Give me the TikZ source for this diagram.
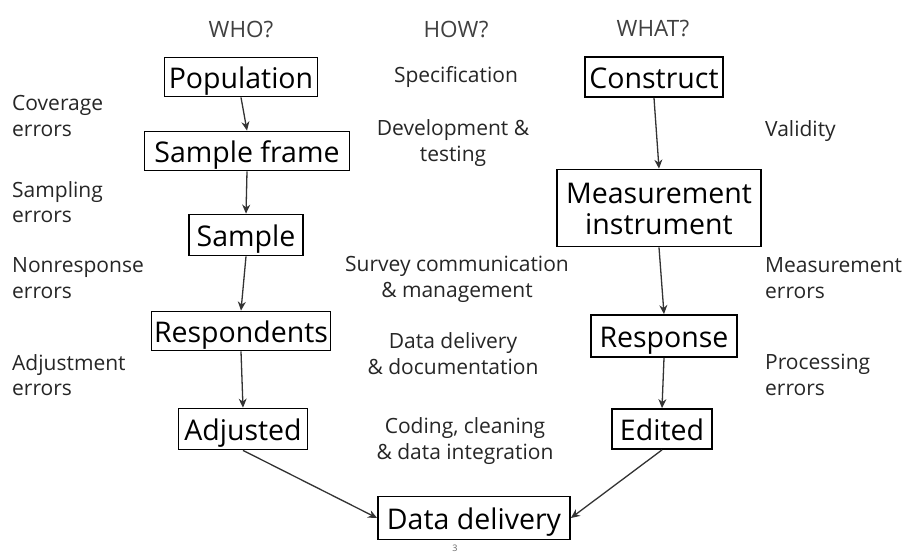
\documentclass[tikz,border=0pt]{standalone}
\usepackage{fontspec}
\setmainfont{Open Sans}
\usetikzlibrary{arrows.meta}
\begin{document}
\begin{tikzpicture}[x=1pt,y=-1pt,
  stage/.style={draw=black,line width=1.8pt,inner sep=0pt,align=center,
    text height=28pt,text depth=6pt,
    font=\fontsize{28.5}{31}\selectfont},
  head/.style={text=black!75,font=\fontsize{22.5}{26}\selectfont},
  errlbl/.style={anchor=west,align=left,inner sep=0pt,text=black!85,
    font=\fontsize{21}{25.5}\selectfont},
  howlbl/.style={align=center,inner sep=0pt,text=black!85,
    font=\fontsize{21}{26}\selectfont},
  flow/.style={draw=black!80,line width=1.3pt,-{Stealth[length=9pt,width=8pt]}}]
\useasboundingbox (0,0) rectangle (908,555);
\fill[white] (0,0) rectangle (908,555);

% column headings
\node[head] (who)  at (241,29) {WHO?};
\node[head] (how)  at (456,29) {HOW?};
\node[head] (what) at (653,29) {WHAT?};

% representation side
\node[stage,minimum width=153pt,minimum height=39pt] (pop) at (241,77) {Population};
\node[stage,minimum width=205pt,minimum height=39pt] (frame) at (247,151) {Sample frame};
\node[stage,minimum width=114pt,minimum height=41pt] (samp) at (246,235) {Sample};
\node[stage,minimum width=179pt,minimum height=39pt] (resp) at (241,331) {Respondents};
\node[stage,minimum width=129pt,minimum height=41pt] (adj) at (243,429) {Adjusted};

% measurement side
\node[stage,minimum width=138pt,minimum height=40pt] (con) at (654,77) {Construct};
\node[stage,minimum width=204pt,minimum height=77pt,text height=59pt]
  (meas) at (659,208) {Measurement\\instrument};
\node[stage,minimum width=146pt,minimum height=42pt] (rsp) at (664,336) {Response};
\node[stage,minimum width=100pt,minimum height=40pt] (edt) at (662,429) {Edited};

% final product
\node[stage,minimum width=192pt,minimum height=43pt] (dd) at (474,518) {Data delivery};

% connectors
\draw[flow] (pop.south) -- (frame.north);
\draw[flow] (frame.south) -- (samp.north);
\draw[flow] (samp.south) -- (resp.north);
\draw[flow] (resp.south) -- (adj.north);
\draw[flow] (con.south) -- (meas.north);
\draw[flow] (meas.south) -- (rsp.north);
\draw[flow] (rsp.south) -- (edt.north);
\draw[flow] (adj.south) -- (dd.west);
\draw[flow] (edt.south) -- (dd.east);

% error sources, left
\node[errlbl] (e1) at (12,116) {Coverage\\errors};
\node[errlbl] (e2) at (12,202) {Sampling\\errors};
\node[errlbl] (e3) at (12,278) {Nonresponse\\errors};
\node[errlbl] (e4) at (12,375) {Adjustment\\errors};

% process steps, middle
\node[howlbl] (h1) at (456,77) {Specification};
\node[howlbl] (h2) at (453,143) {Development \&\\testing};
\node[howlbl] (h3) at (457,279) {Survey communication\\\& management};
\node[howlbl] (h4) at (453,354) {Data delivery\\\& documentation};
\node[howlbl] (h5) at (465,441) {Coding, cleaning\\\& data integration};

% error sources, right
\node[errlbl] (r1) at (765,131) {Validity};
\node[errlbl] (r2) at (765,278) {Measurement\\errors};
\node[errlbl] (r3) at (765,375) {Processing\\errors};

% page number
\node[text=black!60,font=\fontsize{9}{10}\selectfont] (pg) at (455,548) {3};
\end{tikzpicture}
\end{document}
